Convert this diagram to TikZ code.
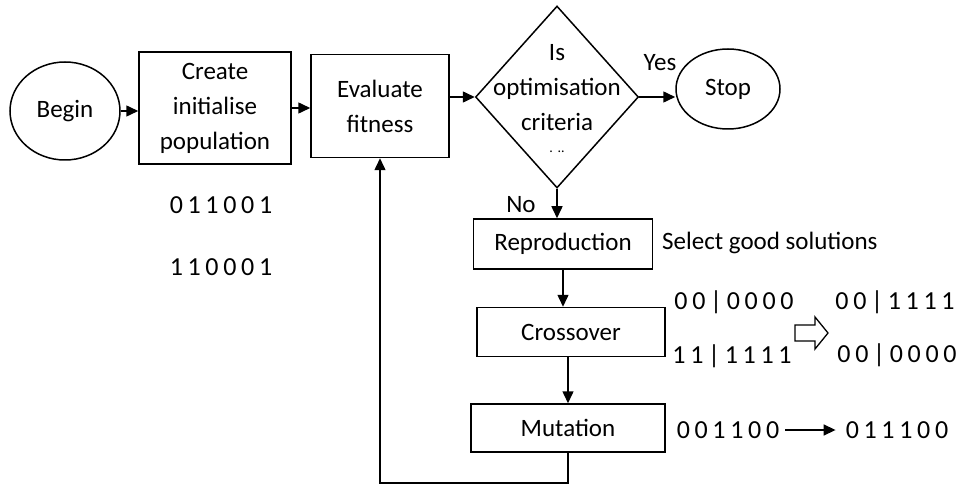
\documentclass[tikz,border=0pt]{standalone}
\usepackage{fontspec}
\setmainfont{Carlito}
\newfontfamily\digitfont[LetterSpace=18]{Carlito}
\usetikzlibrary{shapes.geometric,arrows.meta}
\tikzset{
  base/.style={draw=black, line width=1.5pt, inner sep=0pt, align=center,
    font=\fontsize{25}{35}\selectfont},
  boxnode/.style={base, rectangle},
  ovalnode/.style={base, ellipse},
  decnode/.style={base, diamond},
  txt/.style={inner sep=0pt, font=\fontsize{25}{35}\selectfont},
  bits/.style={inner sep=0pt, font=\fontsize{26}{30}\digitfont},
  arr/.style={line width=1.5pt, -{Triangle[length=12pt,width=11pt]}},
}
\begin{document}
\begin{tikzpicture}[x=1pt,y=-1pt]
\useasboundingbox (0,0) rectangle (968,486);
% main flow
\node[ovalnode, minimum width=110pt, minimum height=98pt] (begin) at (65,111) {Begin};
\node[boxnode, minimum width=152pt, minimum height=112pt] (create) at (215,108) {Create\\initialise\\population};
\node[boxnode, minimum width=138pt, minimum height=103pt] (eval) at (380,106) {Evaluate\\fitness};
\node[decnode, minimum width=163pt, minimum height=182pt] (dia) at (557,97) {};
\node[txt, align=center] (diatext) at (557,88) {Is\\optimisation\\criteria};
\node[inner sep=0pt, font=\fontsize{14}{14}\selectfont] (diadots) at (557,152) {.\,\,..};
\node[ovalnode, minimum width=104pt, minimum height=80pt] (stop) at (728,89) {Stop};
\node[boxnode, minimum width=179pt, minimum height=50pt] (repro) at (563,244) {Reproduction};
\node[boxnode, minimum width=188pt, minimum height=49pt] (cross) at (571,332) {Crossover};
\node[boxnode, minimum width=194pt, minimum height=48pt] (mut) at (568,428) {Mutation};
% labels
\node[txt] (yes) at (660,63) {Yes};
\node[txt] (no) at (521,205) {No};
\node[txt, anchor=west] (select) at (662,243) {Select good solutions};
% bit strings
\node[bits] (i1) at (221,205) {011001};
\node[bits] (i2) at (221,267) {110001};
\node[bits] (c1) at (734,302) {00|0000};
\node[bits] (c2) at (895,302) {00|1111};
\node[bits] (c3) at (732,356) {11|1111};
\node[bits] (c4) at (897,355) {00|0000};
\node[bits] (m1) at (728,430) {001100};
\node[bits] (m2) at (897,430) {011100};
% connectors
\draw[arr] (begin.east) -- (begin.east -| create.west);
\draw[arr] (create.east) -- (create.east -| eval.west);
\draw[arr] (eval.east |- dia.west) -- (dia.west);
\draw[arr] (dia.east) -- (dia.east -| stop.west);
\draw[arr] (dia.south) -- (dia.south |- repro.north);
\draw[arr] (repro.south) -- (repro.south |- cross.north);
\draw[arr] (mut.north |- cross.south) -- (mut.north);
\draw[arr] (mut.south) -- ++(0,30) -| (eval.south);
\draw[arr, shorten <=6pt, shorten >=10pt] (m1.east) -- (m2.west);
% hollow block arrow
\draw[line width=1.3pt, line join=miter]
  (795,325) -- (815,325) -- (815,317) -- (828,333) -- (815,349) -- (815,341) -- (795,341) -- cycle;
\end{tikzpicture}
\end{document}
